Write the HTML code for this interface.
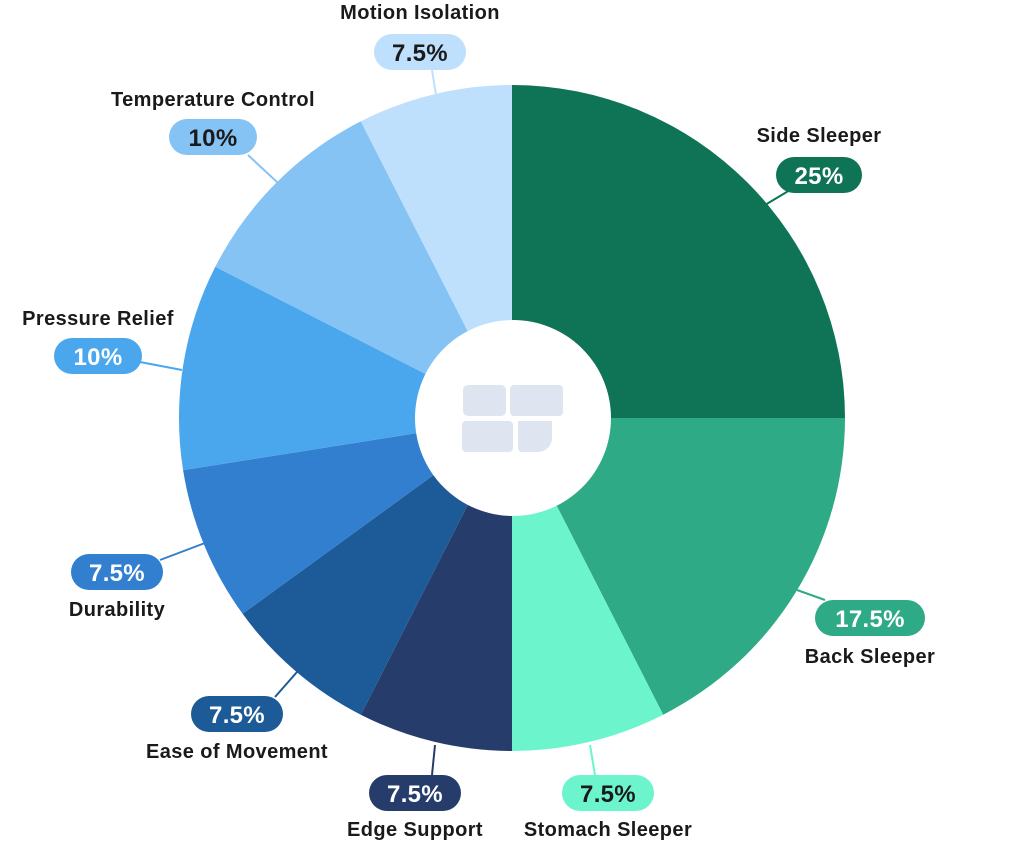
<!DOCTYPE html>
<html><head><meta charset="utf-8"><style>
html,body{margin:0;padding:0;background:#fff;}
svg{display:block;font-family:"Liberation Sans",sans-serif;}
.t{font-size:20px;font-weight:bold;fill:#1a1a1a;text-anchor:middle;letter-spacing:0.4px;}
.p{font-size:24px;font-weight:bold;text-anchor:middle;letter-spacing:0.3px;}
</style></head><body>
<svg width="1024" height="842" viewBox="0 0 1024 842">
<g>
<path d="M512,418 L512,85 A333,333 0 0 1 845,418 Z" fill="#0f7355"/>
<path d="M512,418 L845,418 A333,333 0 0 1 663.2,714.7 Z" fill="#2faa86"/>
<path d="M512,418 L663.2,714.7 A333,333 0 0 1 512,751 Z" fill="#6cf5cd"/>
<path d="M512,418 L512,751 A333,333 0 0 1 360.8,714.7 Z" fill="#263d6b"/>
<path d="M512,418 L360.8,714.7 A333,333 0 0 1 242.6,613.8 Z" fill="#1d5a98"/>
<path d="M512,418 L242.6,613.8 A333,333 0 0 1 183.1,470.1 Z" fill="#327fd0"/>
<path d="M512,418 L183.1,470.1 A333,333 0 0 1 215.3,266.8 Z" fill="#4aa7ee"/>
<path d="M512,418 L215.3,266.8 A333,333 0 0 1 360.8,121.3 Z" fill="#86c3f5"/>
<path d="M512,418 L360.8,121.3 A333,333 0 0 1 512,85 Z" fill="#bfe0fc"/>
</g>
<circle cx="513" cy="418" r="98" fill="#fff"/>
<g fill="#dfe5f0">
<rect x="463" y="385" width="43" height="31" rx="5"/>
<rect x="510" y="385" width="53" height="31" rx="4"/>
<rect x="462" y="421" width="51" height="31" rx="4"/>
<path d="M518,421 H552 V438 A14,14 0 0 1 538,452 H522 A4,4 0 0 1 518,448 Z"/>
</g>
<g stroke-width="2">
<line x1="432" y1="70" x2="436" y2="95" stroke="#bfe0fc"/>
<line x1="248" y1="155" x2="278" y2="183" stroke="#86c3f5"/>
<line x1="790" y1="190" x2="765" y2="205" stroke="#0f7355"/>
<line x1="140" y1="362" x2="182" y2="370" stroke="#4aa7ee"/>
<line x1="160" y1="560" x2="205" y2="543" stroke="#327fd0"/>
<line x1="825" y1="600" x2="797" y2="590" stroke="#2faa86"/>
<line x1="275" y1="697" x2="297" y2="672" stroke="#1d5a98"/>
<line x1="432" y1="775" x2="435" y2="745" stroke="#263d6b"/>
<line x1="595" y1="775" x2="590" y2="745" stroke="#6cf5cd"/>
</g>
<rect x="374" y="34" width="92" height="36" rx="18" fill="#bfe0fc"/><text class="p" x="420" y="61" fill="#1a1a1a">7.5%</text><text class="t" x="420" y="19">Motion Isolation</text>
<rect x="169" y="119" width="88" height="36" rx="18" fill="#86c3f5"/><text class="p" x="213" y="146" fill="#1a1a1a">10%</text><text class="t" x="213" y="106">Temperature Control</text>
<rect x="776" y="157" width="86" height="36" rx="18" fill="#0f7355"/><text class="p" x="819" y="184" fill="#fff">25%</text><text class="t" x="819" y="142">Side Sleeper</text>
<rect x="54" y="338" width="88" height="36" rx="18" fill="#4aa7ee"/><text class="p" x="98" y="365" fill="#fff">10%</text><text class="t" x="98" y="325">Pressure Relief</text>
<rect x="71" y="554" width="92" height="36" rx="18" fill="#327fd0"/><text class="p" x="117" y="581" fill="#fff">7.5%</text><text class="t" x="117" y="616">Durability</text>
<rect x="815" y="600" width="110" height="36" rx="18" fill="#2faa86"/><text class="p" x="870" y="627" fill="#fff">17.5%</text><text class="t" x="870" y="663">Back Sleeper</text>
<rect x="191" y="696" width="92" height="36" rx="18" fill="#1d5a98"/><text class="p" x="237" y="723" fill="#fff">7.5%</text><text class="t" x="237" y="758">Ease of Movement</text>
<rect x="369" y="775" width="92" height="36" rx="18" fill="#263d6b"/><text class="p" x="415" y="802" fill="#fff">7.5%</text><text class="t" x="415" y="836">Edge Support</text>
<rect x="562" y="775" width="92" height="36" rx="18" fill="#6cf5cd"/><text class="p" x="608" y="802" fill="#1a1a1a">7.5%</text><text class="t" x="608" y="836">Stomach Sleeper</text>
</svg>
</body></html>
